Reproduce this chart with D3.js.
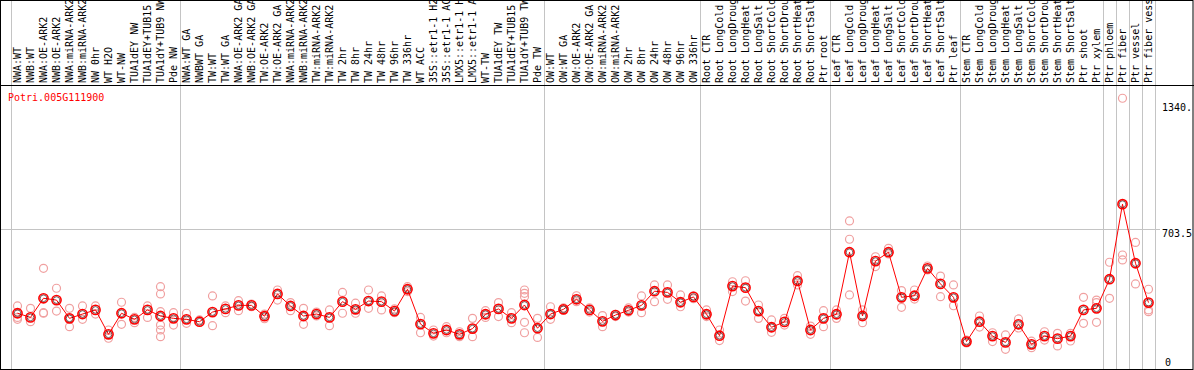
<!DOCTYPE html>
<html>
<head>
<meta charset="utf-8">
<script src="https://cdn.jsdelivr.net/npm/d3@7"></script>
<style>
  body { margin: 0; background: #fff; }
  svg { display: block; }
  text { font-family: "DejaVu Sans Mono", monospace; font-size: 10px; }
</style>
</head>
<body>
<svg id="chart" width="1194" height="370"></svg>
<script>
// sample names (one column each)
const samples = [
  'NWA:WT', 'NWB:WT', 'NWA:OE-ARK2', 'NWB:OE-ARK2', 'NWA:miRNA-ARK2', 'NWB:miRNA-ARK2',
  'NW 0hr', 'WT H2O', 'WT-NW', 'TUA1dEY NW', 'TUA1dEY+TUB15', 'TUA1dY+TUB9 NW', 'Pde NW',
  'NWA:WT GA', 'NWBWT GA', 'TW:WT', 'TW:WT GA', 'NWA:OE-ARK2 GA', 'NWB:OE-ARK2 GA',
  'TW:OE-ARK2', 'TW:OE-ARK2 GA', 'NWA:miRNA-ARK2', 'NWB:miRNA-ARK2', 'TW:miRNA-ARK2', 'TW:miRNA-ARK2',
  'TW 2hr', 'TW 8hr', 'TW 24hr', 'TW 48hr', 'TW 96hr', 'TW 336hr', 'WT ACC',
  '35S::etr1-1 H2O', '35S::etr1-1 ACC', 'LMX5::etr1-1 H2O', 'LMX5::etr1-1 ACC',
  'WT-TW', 'TUA1dEY TW', 'TUA1dEY+TUB15', 'TUA1dY+TUB9 TW', 'Pde TW',
  'OW:WT', 'OW:WT GA', 'OW:OE-ARK2', 'OW:OE-ARK2 GA', 'OW:miRNA-ARK2', 'OW:miRNA-ARK2',
  'OW 2hr', 'OW 8hr', 'OW 24hr', 'OW 48hr', 'OW 96hr', 'OW 336hr',
  'Root CTR', 'Root LongCold', 'Root LongDrought', 'Root LongHeat', 'Root LongSalt',
  'Root ShortCold', 'Root ShortDrought', 'Root ShortHeat', 'Root ShortSalt', 'Ptr root',
  'Leaf CTR', 'Leaf LongCold', 'Leaf LongDrought', 'Leaf LongHeat', 'Leaf LongSalt',
  'Leaf ShortCold', 'Leaf ShortDrought', 'Leaf ShortHeat', 'Leaf ShortSalt', 'Ptr leaf',
  'Stem CTR', 'Stem LongCold', 'Stem LongDrought', 'Stem LongHeat', 'Stem LongSalt',
  'Stem ShortCold', 'Stem ShortDrought', 'Stem ShortHeat', 'Stem ShortSalt', 'Ptr shoot', 'Ptr xylem',
  'Ptr phloem', 'Ptr fiber', 'Ptr vessel', 'Ptr fiber vessel'
];

// mean expression per sample
const means = [
  273, 252, 349, 340, 247, 269, 290, 166, 273, 242, 290, 259, 247,
  242, 230, 279, 295, 313, 313, 258, 371, 310, 259, 269, 252, 332, 293, 335, 332, 284,
  395, 218, 171, 188, 166, 195, 268, 295, 247, 315, 197,
  269, 293, 344, 290, 232, 264, 288, 313, 385, 379, 329, 356,
  268, 159, 411, 403, 284, 202, 229, 437, 188, 247,
  268, 583, 259, 538, 583, 354, 362, 501, 422, 354,
  129, 230, 157, 125, 217, 115, 157, 144, 157, 290, 298,
  446, 827, 527, 327
];

// individual replicates per sample
const replicates = [
  [310, 252, 242], [298, 230], [501, 276, 273], [400, 284], [298, 205, 247], [310, 242],
  [310, 269], [188, 146], [329, 217], [252, 225], [310, 252], [408, 371, 281, 213, 188, 154], [276, 213],
  [273, 222], [239], [361, 210], [310, 276], [337, 286], [320, 306],
  [269, 245], [391, 340], [327, 286], [298, 217], [279, 259], [290, 210],
  [379, 273], [324, 273], [391, 298], [361, 290], [295, 276], [408, 383], [252, 174],
  [188, 157], [205, 174], [179, 154], [247, 154],
  [286, 252], [327, 256], [276, 225], [391, 374, 357, 227, 174], [247, 150],
  [306, 242], [300, 290], [362, 332], [300, 279], [261, 205], [268, 256],
  [300, 279], [361, 276], [417, 332], [417, 344], [366, 306], [361, 347],
  [290, 256], [188, 134], [433, 383], [438, 335], [315, 247],
  [239, 176], [247, 213], [464, 417], [208, 166], [286, 205],
  [290, 247], [742, 649, 366], [290, 225], [560, 510], [603, 574],
  [388, 303], [391, 345], [513, 493], [462, 357], [417, 311],
  [137, 122], [259, 203], [174, 129], [163, 90], [244, 198],
  [131, 98], [179, 137], [171, 107], [171, 132], [354, 222], [340, 327, 227],
  [532, 349], [1365, 569, 544], [633, 422], [395, 290, 281]
];

// column index where each group starts (last one closes the plot)
const groupBreaks = [0, 13, 41, 53, 63, 73, 84, 85, 86, 87, 88];

const geneId = 'Potri.005G111900';
const yMax = 1407;
const yLabels = [
  { value: 1340, text: '1340.' },
  { value: 703.5, text: '703.5' },
  { value: 0, text: '0' }
];

const width = 1194;
const height = 370;
const headerH = 85;

const svg = d3.select('#chart');

const x = d3.scaleBand()
  .domain(d3.range(samples.length))
  .range([11, 11 + 13 * samples.length])
  .padding(0);

const cx = i => x(i) + x.bandwidth() / 2;
const edge = k => (k < samples.length ? x(k) : x(samples.length - 1) + x.bandwidth()) + 0.5;

const y = d3.scaleLinear()
  .domain([0, yMax])
  .range([367, 90]);

// group separators
svg.append('g')
  .selectAll('line')
  .data(groupBreaks)
  .join('line')
  .attr('x1', edge)
  .attr('x2', edge)
  .attr('y1', 0)
  .attr('y2', height)
  .attr('stroke', '#c4c4c4')
  .attr('stroke-width', 1);

// mid gridline
svg.append('line')
  .attr('x1', 1)
  .attr('x2', 1160)
  .attr('y1', Math.round(y(703.5)) + 0.5)
  .attr('y2', Math.round(y(703.5)) + 0.5)
  .attr('stroke', '#c4c4c4');

// sample labels, rotated (long ones run off the top, as in the original)
svg.append('g')
  .selectAll('text')
  .data(samples)
  .join('text')
  .attr('transform', (d, i) => `translate(${cx(i) + 3.5},83) rotate(-90)`)
  .attr('fill', '#000')
  .text(d => d);

// header bottom and frame
svg.append('line')
  .attr('x1', 0).attr('x2', width)
  .attr('y1', headerH + 0.5).attr('y2', headerH + 0.5)
  .attr('stroke', '#000');

svg.append('rect')
  .attr('x', 0.5).attr('y', 0.5)
  .attr('width', width - 1.5).attr('height', height - 1)
  .attr('fill', 'none')
  .attr('stroke', '#000');

// right value labels
svg.append('g')
  .selectAll('text')
  .data(yLabels)
  .join('text')
  .attr('x', d => d.value === 0 ? 1165 : 1162)
  .attr('y', d => d.value === 0 ? 366 : y(d.value) + 8)
  .attr('fill', '#000')
  .text(d => d.text);

// gene id
svg.append('text')
  .attr('x', 8)
  .attr('y', 101)
  .attr('fill', '#ff0000')
  .text(geneId);

// replicate points
const repPoints = replicates.flatMap((reps, i) => reps.map(v => ({ i, v })));
svg.append('g')
  .selectAll('circle')
  .data(repPoints)
  .join('circle')
  .attr('cx', d => cx(d.i))
  .attr('cy', d => y(d.v))
  .attr('r', 4)
  .attr('fill', 'none')
  .attr('stroke', '#f0a0a0')
  .attr('stroke-width', 1.2);

// mean line
const line = d3.line()
  .x((d, i) => cx(i))
  .y(d => y(d));

svg.append('path')
  .datum(means)
  .attr('d', line)
  .attr('fill', 'none')
  .attr('stroke', '#ff0000')
  .attr('stroke-width', 1);

// mean markers
const meanG = svg.append('g');
meanG.selectAll('circle.outer')
  .data(means)
  .join('circle')
  .attr('class', 'outer')
  .attr('cx', (d, i) => cx(i))
  .attr('cy', d => y(d))
  .attr('r', 4.6)
  .attr('fill', 'none')
  .attr('stroke', '#ff0000')
  .attr('stroke-width', 1.6);

meanG.selectAll('circle.inner')
  .data(means)
  .join('circle')
  .attr('class', 'inner')
  .attr('cx', (d, i) => cx(i))
  .attr('cy', d => y(d))
  .attr('r', 3.3)
  .attr('fill', 'none')
  .attr('stroke', '#200000')
  .attr('stroke-width', 0.6);
</script>
</body>
</html>
